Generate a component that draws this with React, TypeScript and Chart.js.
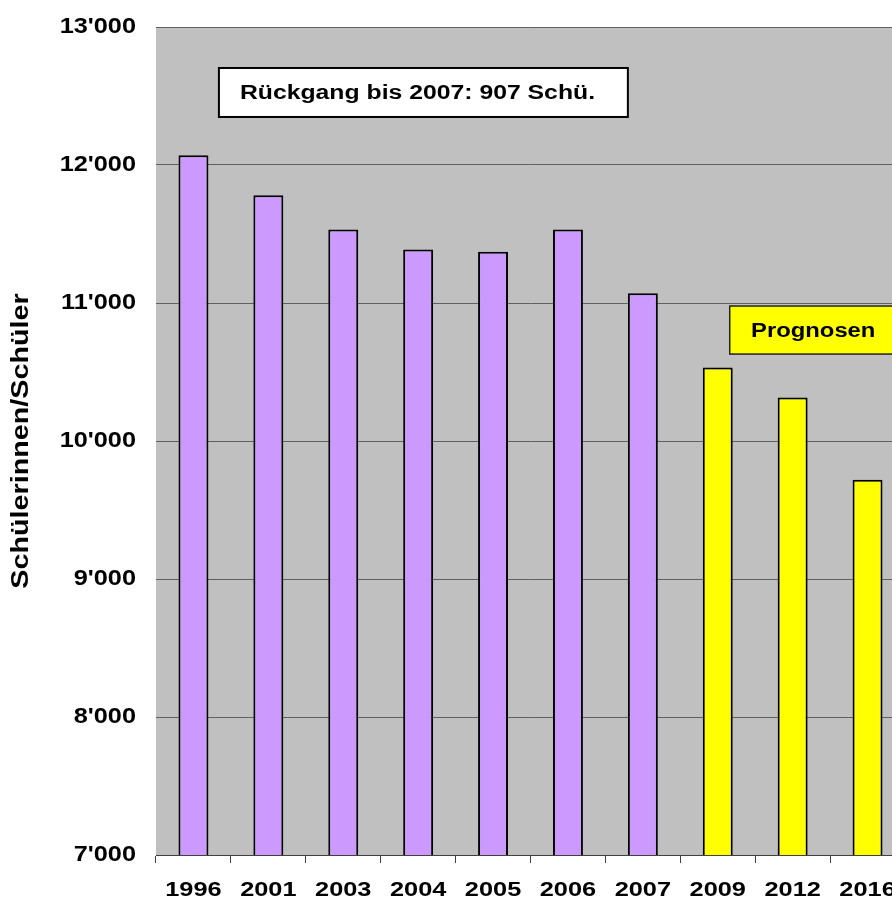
import React, { useEffect, useRef } from 'react';
import { Chart, registerables } from 'chart.js';

Chart.register(...registerables);

// ---- data ----
const categories = ['1996', '2001', '2003', '2004', '2005', '2006', '2007', '2009', '2012', '2016'];
const students = [12070, 11780, 11533, 11388, 11372, 11533, 11070, 10533, 10316, 9720];
const isForecast = [false, false, false, false, false, false, false, true, true, true];
const yMin = 7000;
const yMax = 13000;
const yStep = 1000;
const yTitle = 'Schülerinnen/Schüler';
const noteText = 'Rückgang bis 2007: 907 Schü.';
const forecastText = 'Prognosen';

const FONT = "'Liberation Sans', Arial, Helvetica, sans-serif";
const W = 920;
const H = 901;

const fmt = (v: number) => {
  const t = Math.floor(v / 1000);
  const r = String(Math.round(v % 1000)).padStart(3, '0');
  return `${t}'${r}`;
};

// draw text stretched horizontally (in the text's own frame), like the original's wide font
const withStretch = (ctx: any, sx: number, fn: () => void) => {
  const orig = ctx.fillText;
  ctx.fillText = function (text: string, x: number, y: number, mw?: number) {
    this.save();
    this.translate(x, y);
    this.scale(sx, 1);
    if (mw === undefined || mw === null) orig.call(this, text, 0, 0);
    else orig.call(this, text, 0, 0, mw / sx);
    this.restore();
  };
  try {
    fn();
  } finally {
    delete ctx.fillText;
  }
};

const bgPlugin = {
  id: 'plotBg',
  beforeDraw(chart: any) {
    const { ctx, chartArea: a } = chart;
    ctx.save();
    ctx.fillStyle = '#c0c0c0';
    ctx.fillRect(a.left, a.top, a.right - a.left, a.bottom - a.top);
    ctx.restore();
  },
};

const stretchPlugin = {
  id: 'stretch',
  beforeDraw(chart: any) {
    const patch = (scale: any, labelSx: number, titleSx: number) => {
      if (!scale || scale._sxPatched) return;
      scale._sxPatched = true;
      const dl = scale.drawLabels.bind(scale);
      scale.drawLabels = (area: any) => withStretch(scale.ctx, labelSx, () => dl(area));
      const dt = scale.drawTitle.bind(scale);
      scale.drawTitle = () => withStretch(scale.ctx, titleSx, () => dt());
    };
    patch(chart.scales.x, 1.3, 1);
    patch(chart.scales.y, 1.15, 1.25);
  },
};

const notesPlugin = {
  id: 'notes',
  afterDatasetsDraw(chart: any) {
    const { ctx, scales } = chart;
    const x = scales.x;
    const y = scales.y;
    const box = (x0: number, x1: number, v0: number, v1: number) => ({
      l: x.getPixelForValue(x0),
      r: x.getPixelForValue(x1),
      t: y.getPixelForValue(v1),
      b: y.getPixelForValue(v0),
    });
    ctx.save();
    // note box
    const n = box(0.34, 5.8, 12348, 12703);
    ctx.fillStyle = '#ffffff';
    ctx.fillRect(n.l, n.t, n.r - n.l, n.b - n.t);
    ctx.strokeStyle = '#000000';
    ctx.lineWidth = 2;
    ctx.strokeRect(n.l, n.t, n.r - n.l, n.b - n.t);
    ctx.fillStyle = '#000000';
    ctx.font = `bold 19.5px ${FONT}`;
    ctx.textAlign = 'left';
    ctx.textBaseline = 'middle';
    withStretch(ctx, 1.27, () => ctx.fillText(noteText, n.l + 21, (n.t + n.b) / 2 + 1));
    // forecast box
    const f = box(7.16, 9.39, 10630, 10978);
    ctx.fillStyle = '#ffff00';
    ctx.fillRect(f.l, f.t, f.r - f.l, f.b - f.t);
    ctx.strokeStyle = '#222222';
    ctx.lineWidth = 1.5;
    ctx.strokeRect(f.l, f.t, f.r - f.l, f.b - f.t);
    ctx.fillStyle = '#000000';
    ctx.font = `bold 20px ${FONT}`;
    ctx.textAlign = 'center';
    withStretch(ctx, 1.19, () => ctx.fillText(forecastText, (f.l + f.r) / 2, (f.t + f.b) / 2 + 1));
    ctx.restore();
  },
};

export default function App() {
  const ref = useRef<HTMLCanvasElement>(null);
  useEffect(() => {
    const canvas = ref.current!;
    const chart = new Chart(canvas, {
      type: 'bar',
      data: {
        labels: categories,
        datasets: [
          {
            data: students,
            backgroundColor: isForecast.map((f) => (f ? '#ffff00' : '#cc99ff')),
            borderColor: '#000000',
            borderWidth: 2,
            barPercentage: 0.4,
            categoryPercentage: 1.0,
          },
        ],
      },
      options: {
        responsive: false,
        animation: false,
        devicePixelRatio: 1,
        layout: { padding: { left: 0, right: 15, top: 27, bottom: 0 } },
        plugins: {
          legend: { display: false },
          tooltip: { enabled: false },
        },
        scales: {
          x: {
            grid: {
              display: true,
              drawOnChartArea: false,
              drawTicks: true,
              tickLength: 8,
              color: '#404040',
              lineWidth: 1,
              offset: true,
            },
            border: { display: true, color: '#404040', width: 1 },
            ticks: {
              font: { family: FONT, size: 19.5, weight: 'bold' },
              color: '#000000',
              padding: 16,
              autoSkip: false,
              maxRotation: 0,
              minRotation: 0,
            },
            afterFit: (s: any) => {
              s.height = 46;
              s.paddingLeft = 0;
              s.paddingRight = 0;
            },
          },
          y: {
            min: yMin,
            max: yMax,
            ticks: {
              stepSize: yStep,
              callback: (v: any) => fmt(Number(v)),
              font: { family: FONT, size: 22, weight: 'bold' },
              color: '#000000',
              padding: 20,
            },
            grid: { color: '#606060', drawTicks: false, lineWidth: 1 },
            border: { display: false },
            title: {
              display: true,
              text: yTitle,
              font: { family: FONT, size: 23, weight: 'bold' },
              color: '#000000',
              padding: { top: 8, bottom: 0 },
            },
            afterFit: (s: any) => {
              s.width = 156;
              s.paddingTop = 0;
              s.paddingBottom = 0;
            },
          },
        },
      },
      plugins: [bgPlugin, stretchPlugin, notesPlugin],
    } as any);
    return () => chart.destroy();
  }, []);
  return (
    <div
      style={{
        position: 'fixed',
        left: 0,
        top: 0,
        width: 892,
        height: 901,
        overflow: 'hidden',
        background: '#ffffff',
      }}
    >
      <canvas ref={ref} width={W} height={H} style={{ display: 'block', width: W, height: H }} />
    </div>
  );
}
